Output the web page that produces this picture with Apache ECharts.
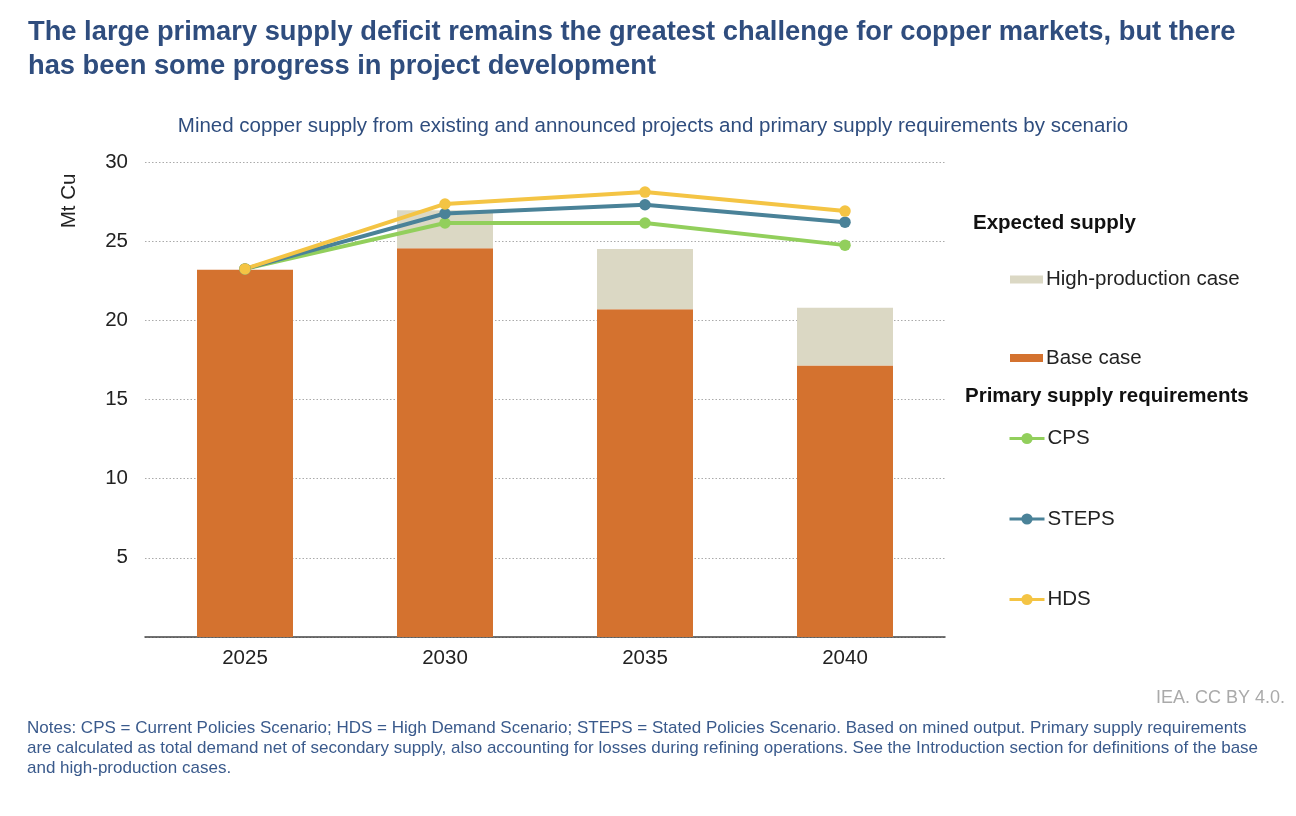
<!DOCTYPE html>
<html>
<head>
<meta charset="utf-8">
<title>Copper supply</title>
<script src="https://cdn.jsdelivr.net/npm/echarts@6/dist/echarts.min.js"></script>
<style>
  html, body { margin: 0; padding: 0; background: #fff; }
  #chart { width: 1296px; height: 816px; }
</style>
</head>
<body>
<div id="chart"></div>
<script>
// data
const years = ['2025', '2030', '2035', '2040'];
const baseCase = [23.2, 24.55, 20.7, 17.15];
const highProductionTotal = [23.2, 26.95, 24.5, 20.8];
const cps = [23.25, 26.15, 26.15, 24.75];
const steps = [23.25, 26.75, 27.3, 26.2];
const hds = [23.25, 27.35, 28.1, 26.9];
const yTicks = [0, 5, 10, 15, 20, 25, 30];

const FONT = '"Liberation Sans", Arial, sans-serif';
const titleColor = '#2f4d7e';
const textColor = '#222';

// extra amount on top of the base case
const highExtra = highProductionTotal.map((v, i) => {
    const d = +(v - baseCase[i]).toFixed(2);
    return d > 0 ? d : '-';
});

function lineSeries(name, data, color) {
    return {
        name: name,
        type: 'line',
        data: data,
        z: 5,
        symbol: 'circle',
        symbolSize: 11.5,
        lineStyle: { color: color, width: 4 },
        itemStyle: { color: color },
        emphasis: { disabled: true }
    };
}

const chart = echarts.init(document.getElementById('chart'));

const option = {
    animation: false,
    textStyle: { fontFamily: FONT },
    title: [{
        text: 'The large primary supply deficit remains the greatest challenge for copper markets, but there\nhas been some progress in project development',
        left: 23,
        top: 10,
        textStyle: { color: titleColor, fontSize: 27.3, fontWeight: 'bold', lineHeight: 34, fontFamily: FONT }
    }, {
        text: 'Mined copper supply from existing and announced projects and primary supply requirements by scenario',
        left: 648,
        textAlign: 'center',
        top: 111,
        textStyle: { color: titleColor, fontSize: 20.5, fontWeight: 'normal', fontFamily: FONT }
    }],
    grid: { left: 145, right: 351, top: 162, bottom: 179 },
    xAxis: {
        type: 'category',
        data: years,
        axisTick: { show: false },
        axisLine: { lineStyle: { color: '#444', width: 1.5 } },
        axisLabel: { color: textColor, fontSize: 20.5, margin: 11, fontFamily: FONT }
    },
    yAxis: {
        type: 'value',
        min: yTicks[0],
        max: yTicks[yTicks.length - 1],
        interval: 5,
        axisLine: { show: false },
        axisTick: { show: false },
        axisLabel: {
            color: textColor, fontSize: 20.5, margin: 17, fontFamily: FONT,
            formatter: v => (v === 0 ? '' : String(v))
        },
        splitLine: { lineStyle: { color: '#aaa', type: [1.5, 2], width: 1 } }
    },
    legend: [{
        data: ['High-production case', 'Base case'],
        orient: 'vertical',
        icon: 'rect',
        left: 1005,
        top: 264,
        itemWidth: 33,
        itemHeight: 8,
        itemGap: 57.5,
        textStyle: { color: textColor, fontSize: 20.5, padding: [0, 0, 0, -2], fontFamily: FONT },
        selectedMode: false
    }, {
        data: ['CPS', 'STEPS', 'HDS'],
        orient: 'vertical',
        left: 1003,
        top: 423,
        itemWidth: 35,
        itemHeight: 14,
        itemGap: 59.5,
        lineStyle: { width: 3 },
        textStyle: { color: textColor, fontSize: 20.5, padding: [0, 0, 0, -2], fontFamily: FONT },
        selectedMode: false
    }],
    graphic: [{
        type: 'text',
        x: 69,
        y: 201,
        rotation: Math.PI / 2,
        style: { text: 'Mt Cu', fill: textColor, font: '20.5px ' + FONT, align: 'center', verticalAlign: 'middle' }
    }, {
        type: 'text',
        left: 973,
        top: 213,
        style: { text: 'Expected supply', fill: '#111', font: 'bold 20.5px ' + FONT }
    }, {
        type: 'text',
        left: 965,
        top: 386,
        style: { text: 'Primary supply requirements', fill: '#111', font: 'bold 20.5px ' + FONT }
    }, {
        type: 'text',
        right: 11,
        top: 689,
        style: { text: 'IEA. CC BY 4.0.', fill: '#aaa', font: '18px ' + FONT }
    }, {
        type: 'text',
        left: 27,
        top: 718,
        style: {
            text: 'Notes: CPS = Current Policies Scenario; HDS = High Demand Scenario; STEPS = Stated Policies Scenario. Based on mined output. Primary supply requirements\nare calculated as total demand net of secondary supply, also accounting for losses during refining operations. See the Introduction section for definitions of the base\nand high-production cases.',
            fill: '#3a5a8c',
            font: '17px ' + FONT,
            lineHeight: 20
        }
    }],
    series: [{
        name: 'Base case',
        type: 'bar',
        stack: 'supply',
        data: baseCase,
        barWidth: '48%',
        itemStyle: { color: '#d4722f' },
        emphasis: { disabled: true }
    }, {
        name: 'High-production case',
        type: 'bar',
        stack: 'supply',
        data: highExtra,
        barWidth: '48%',
        itemStyle: { color: '#dbd8c4' },
        emphasis: { disabled: true }
    },
        lineSeries('CPS', cps, '#92cf5c'),
        lineSeries('STEPS', steps, '#4a8298'),
        lineSeries('HDS', hds, '#f4c444')
    ]
};

chart.setOption(option);
window.addEventListener('resize', () => chart.resize());
</script>
</body>
</html>
